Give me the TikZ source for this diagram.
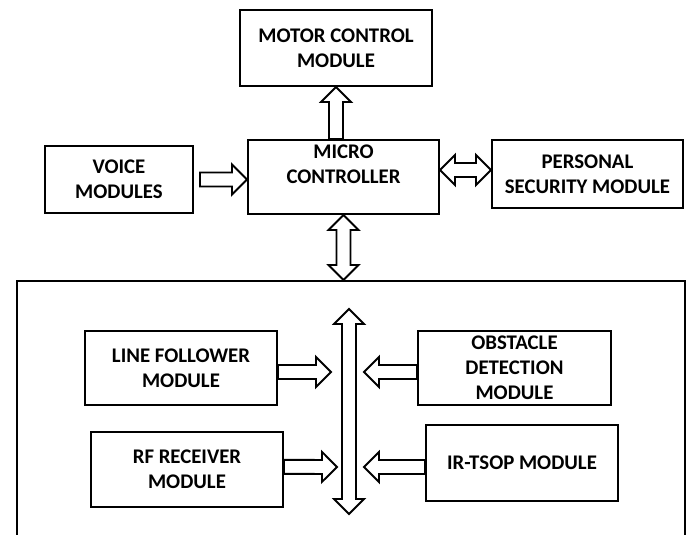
\documentclass[tikz,border=0pt]{standalone}
\usepackage{fontspec}
\setmainfont{Carlito}
\usetikzlibrary{calc}
\tikzset{
  module/.style={draw, line width=1.5pt, inner sep=0pt, align=center,
                 font=\fontsize{15.6}{18.75}\selectfont\bfseries},
  fatarrow/.style={draw, fill=white, line width=1.4pt, line join=miter}
}
\newcommand{\sarrow}[2]{%
  \path[fatarrow] let \p1=(#1), \p2=(#2), \n1={atan2(\y2-\y1,\x2-\x1)},
    \n2={veclen(\x2-\x1,\y2-\y1)} in [shift={(\p1)}, rotate=\n1]
    (0pt,-5.25pt) -- ({\n2-11.25pt},-5.25pt) -- ({\n2-11.25pt},-11.25pt)
    -- ({\n2+0pt},0pt) -- ({\n2-11.25pt},11.25pt) -- ({\n2-11.25pt},5.25pt)
    -- (0pt,5.25pt) -- cycle;}
\newcommand{\darrow}[2]{%
  \path[fatarrow] let \p1=(#1), \p2=(#2), \n1={atan2(\y2-\y1,\x2-\x1)},
    \n2={veclen(\x2-\x1,\y2-\y1)} in [shift={(\p1)}, rotate=\n1]
    (11.25pt,-5.25pt) -- ({\n2-11.25pt},-5.25pt) -- ({\n2-11.25pt},-11.25pt)
    -- ({\n2+0pt},0pt) -- ({\n2-11.25pt},11.25pt) -- ({\n2-11.25pt},5.25pt)
    -- (11.25pt,5.25pt) -- (11.25pt,11.25pt) -- (0pt,0pt) -- (11.25pt,-11.25pt)
    -- cycle;}

\begin{document}
\begin{tikzpicture}[x=0.75pt, y=-0.75pt]
  \useasboundingbox (0,0) rectangle (689,535);
  \node[draw, line width=1.5pt, minimum width=501pt, minimum height=210pt] (frame) at (351,421) {};

  \node[module, minimum width=144pt, minimum height=57pt] (motor) at (336,48) {MOTOR CONTROL\\MODULE};
  \node[module, minimum width=143.25pt, minimum height=55.5pt] (micro) at (343.5,177) {MICRO\\CONTROLLER\\~};
  \node[module, minimum width=111pt, minimum height=50.25pt] (voice) at (119,179.5) {VOICE\\MODULES};
  \node[module, minimum width=143.25pt, minimum height=51pt] (personal) at (587.5,174) {PERSONAL\\SECURITY MODULE};

  \node[module, minimum width=144pt, minimum height=55.5pt] (linef) at (181,368) {LINE FOLLOWER\\MODULE};
  \node[module, minimum width=144.75pt, minimum height=55.5pt] (obstacle) at (514.5,368) {OBSTACLE\\DETECTION\\MODULE};
  \node[module, minimum width=144pt, minimum height=56.25pt] (rf) at (187,469.5) {RF RECEIVER\\MODULE};
  \node[module, minimum width=144pt, minimum height=57pt] (irtsop) at (522,463) {IR-TSOP MODULE};

  \coordinate (bustop) at (349,309);
  \coordinate (busbot) at (349,514);
  \coordinate (linefin) at (331,372);
  \coordinate (rfin) at (337,467);
  \coordinate (obstaclein) at (364,372);
  \coordinate (irtsopin) at (364,467);

  \sarrow{micro.north -| motor.south}{motor.south}
  \sarrow{[xshift=4.5pt]voice.east}{voice.east -| micro.west}
  \darrow{[yshift=3pt]personal.west -| micro.east}{[yshift=3pt]personal.west}
  \darrow{micro.south}{micro.south |- frame.north}
  \darrow{bustop}{busbot}
  \sarrow{[yshift=-3pt]linef.east}{linefin}
  \sarrow{[yshift=2pt]rf.east}{rfin}
  \sarrow{[yshift=-3pt]obstacle.west}{obstaclein}
  \sarrow{[yshift=-3pt]irtsop.west}{irtsopin}
\end{tikzpicture}
\end{document}
